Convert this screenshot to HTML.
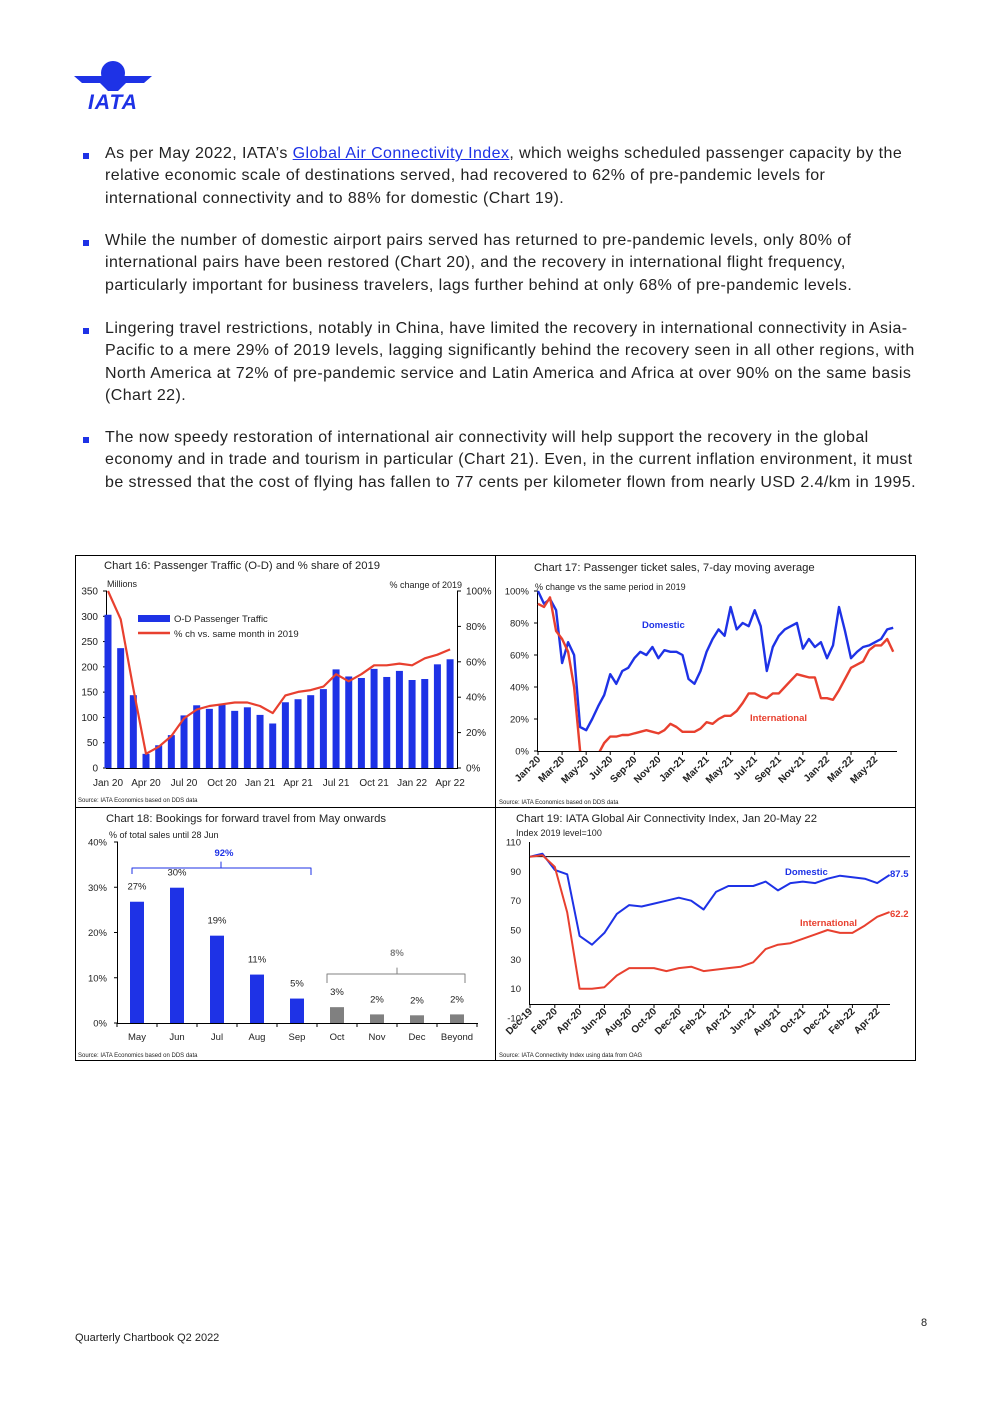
<!DOCTYPE html>
<html><head><meta charset="utf-8">
<style>
body{margin:0;background:#fff;width:992px;height:1403px;position:relative;overflow:hidden;font-family:"Liberation Sans",sans-serif;color:#222}
.p{position:absolute;left:105px;font-size:16px;letter-spacing:0.42px;line-height:22.3px;width:830px;white-space:nowrap}
.b{position:absolute;left:83px;width:6px;height:6px;background:#1e32e6}
a{color:#1e32e6;text-decoration:underline}
svg text{font-family:"Liberation Sans",sans-serif}
</style></head><body>
<svg style="position:absolute;left:74px;top:60px" width="80" height="52" viewBox="0 0 80 52">
<circle cx="39" cy="13" r="12" fill="#1e32e6"/>
<polygon points="0,16 78,16 70,23 52,23 44,31 34,31 26,23 8,23" fill="#1e32e6"/>
<text x="39" y="49" text-anchor="middle" font-size="21" font-weight="bold" font-style="italic" letter-spacing="1" fill="#1e32e6">IATA</text>
</svg>
<div class="b" style="top:153px"></div>
<div class="p" style="top:143px">As per May 2022, IATA’s <a href="#">Global Air Connectivity Index</a>, which weighs scheduled passenger capacity by the<br>relative economic scale of destinations served, had recovered to 62% of pre-pandemic levels for<br>international connectivity and to 88% for domestic (Chart 19).</div>
<div class="b" style="top:240px"></div>
<div class="p" style="top:230px">While the number of domestic airport pairs served has returned to pre-pandemic levels, only 80% of<br>international pairs have been restored (Chart 20), and the recovery in international flight frequency,<br>particularly important for business travelers, lags further behind at only 68% of pre-pandemic levels.</div>
<div class="b" style="top:328px"></div>
<div class="p" style="top:318px">Lingering travel restrictions, notably in China, have limited the recovery in international connectivity in Asia-<br>Pacific to a mere 29% of 2019 levels, lagging significantly behind the recovery seen in all other regions, with<br>North America at 72% of pre-pandemic service and Latin America and Africa at over 90% on the same basis<br>(Chart 22).</div>
<div class="b" style="top:437px"></div>
<div class="p" style="top:427px">The now speedy restoration of international air connectivity will help support the recovery in the global<br>economy and in trade and tourism in particular (Chart 21). Even, in the current inflation environment, it must<br>be stressed that the cost of flying has fallen to 77 cents per kilometer flown from nearly USD 2.4/km in 1995.</div>
<div style="position:absolute;left:921px;top:1317px;font-size:11px">8</div>
<div style="position:absolute;left:75px;top:1332px;font-size:11px">Quarterly Chartbook Q2 2022</div>

<svg id="c" style="position:absolute;left:0;top:0" width="992" height="1403">
<defs><clipPath id="cl17"><rect x="536" y="585" width="370" height="166"/></clipPath></defs>
<rect x="75.5" y="555.5" width="840" height="505" fill="none" stroke="#000"/>
<line x1="495.5" y1="555" x2="495.5" y2="1060" stroke="#000"/>
<line x1="75" y1="807.5" x2="915" y2="807.5" stroke="#000"/>
</svg>
<script>
// Chart 16 data
const c16Bars=[303,237,144,28,45,65,104,124,117,125,113,120,105,88,130,136,144,156,195,181,178,196,180,192,174,176,205,215];
const c16Pct=[100,84,45,8,12,18,28,33,35,36,37,37,35,31,41,43,44,46,53,49,53,58,58,59,58,62,64,67];
const c16XLabels=["Jan 20","Apr 20","Jul 20","Oct 20","Jan 21","Apr 21","Jul 21","Oct 21","Jan 22","Apr 22"];
const c16LTicks=[0,50,100,150,200,250,300,350];
const c16RTicks=[0,20,40,60,80,100];
// Chart 17 data (half-monthly from Jan-20)
const c17Dom=[100,92,95,88,55,68,60,15,13,20,28,35,48,42,50,52,58,62,60,65,58,63,62,62,60,45,42,50,62,70,76,72,90,76,80,78,88,78,50,65,72,76,78,80,64,70,65,68,58,66,90,75,58,62,65,66,68,70,76,77];
const c17Int=[92,90,96,75,70,62,40,0,-5,-10,-2,5,9,9,10,10,11,12,13,12,11,13,17,15,12,12,12,14,18,17,20,22,22,25,30,36,36,34,33,36,36,40,44,48,47,46,46,33,33,32,38,45,52,54,56,63,66,66,70,62];
const c17XLabels=["Jan-20","Mar-20","May-20","Jul-20","Sep-20","Nov-20","Jan-21","Mar-21","May-21","Jul-21","Sep-21","Nov-21","Jan-22","Mar-22","May-22"];
const c17Ticks=[0,20,40,60,80,100];
// Chart 18 data
const c18Cats=["May","Jun","Jul","Aug","Sep","Oct","Nov","Dec","Beyond"];
const c18Vals=[26.8,29.9,19.3,10.7,5.4,3.5,1.9,1.7,1.9];
const c18Labels=["27%","30%","19%","11%","5%","3%","2%","2%","2%"];
const c18Ticks=[0,10,20,30,40];
// Chart 19 data (monthly Dec-19..May-22)
const c19Dom=[100,102,91,88,46,40,48,61,67,66,68,70,72,70,64,76,80,80,80,83,77,82,83,82,85,87,86,85,82,87.5];
const c19Int=[100,101,93,62,10,10,11,19,24,24,24,22,24,25,22,23,24,25,28,37,40,41,44,47,50,48,48,53,59,62.2];
const c19XLabels=["Dec-19","Feb-20","Apr-20","Jun-20","Aug-20","Oct-20","Dec-20","Feb-21","Apr-21","Jun-21","Aug-21","Oct-21","Dec-21","Feb-22","Apr-22"];
const c19Ticks=[-10,10,30,50,70,90,110];

const NS="http://www.w3.org/2000/svg";
const svg=document.getElementById('c');
function mk(tag,attrs,parent){const e=document.createElementNS(NS,tag);for(const k in attrs)e.setAttribute(k,attrs[k]);(parent||svg).appendChild(e);return e;}
function tx(x,y,s,size,anchor,fill,name,extra){const e=mk('text',Object.assign({x:x,y:y,'font-size':size,'text-anchor':anchor||'start',fill:fill||'#222'},extra||{}));e.textContent=s;


return e;}
function path(pts,color,w,name,clip){const d=pts.map((p,i)=>(i?'L':'M')+p[0].toFixed(1)+','+p[1].toFixed(1)).join('');const e=mk('path',{d:d,fill:'none',stroke:color,'stroke-width':w,'stroke-linejoin':'round'});if(clip)e.setAttribute('clip-path',clip);


return e;}
const BLUE='#1e32e6',RED='#e8402f';

// ---- Chart 16
const x16=i=>108+i*12.67, yL16=v=>768-v/350*177, yR16=p=>768-p/100*177;
tx(104,569,"Chart 16: Passenger Traffic (O-D) and % share of 2019",11.3,'start','#222','chart16-title');
tx(107,587,"Millions",9,'start','#222','chart16-left-unit');
tx(462,588,"% change of 2019",9,'end','#222','chart16-right-unit');
mk('line',{x1:106.5,y1:591,x2:106.5,y2:768,stroke:'#000'});
mk('line',{x1:457.5,y1:591,x2:457.5,y2:768,stroke:'#000'});
mk('line',{x1:106,y1:768.5,x2:458,y2:768.5,stroke:'#000'});
c16LTicks.forEach(v=>{tx(98,yL16(v)+3.5,String(v),10,'end','#222','chart16-left-tick');mk('line',{x1:103,y1:yL16(v),x2:107,y2:yL16(v),stroke:'#000'});});
c16RTicks.forEach(v=>{tx(466,yR16(v)+3.5,v+'%',10,'start','#222','chart16-right-tick');mk('line',{x1:457,y1:yR16(v),x2:461,y2:yR16(v),stroke:'#000'});});
c16Bars.forEach((v,i)=>{const r=mk('rect',{x:x16(i)-3.5,y:yL16(v),width:7,height:768-yL16(v),fill:BLUE});

});
path(c16Pct.map((p,i)=>[x16(i),yR16(p)]),RED,2.2,'chart16-pct-line');
c16XLabels.forEach((s,k)=>tx(x16(k*3),786,s,10,'middle','#222','chart16-x-label'));
mk('rect',{x:138,y:615,width:32,height:7,fill:BLUE});
tx(174,622,"O-D Passenger Traffic",9.5,'start','#222','chart16-legend-bars');
mk('line',{x1:138,y1:633,x2:170,y2:633,stroke:RED,'stroke-width':2.5});
tx(174,637,"% ch vs. same month in 2019",9.5,'start','#222','chart16-legend-line');
tx(78,802,"Source: IATA Economics based on DDS data",6,'start','#222','chart16-source');

// ---- Chart 17
const x17=i=>538+i*6.02, y17=v=>751-v*1.6;
tx(534,571,"Chart 17: Passenger ticket sales, 7-day moving average",11.3,'start','#222','chart17-title');
tx(535,590,"% change vs the same period in 2019",9,'start','#222','chart17-unit');
mk('line',{x1:537.5,y1:591,x2:537.5,y2:751,stroke:'#000'});
mk('line',{x1:537,y1:751.5,x2:897,y2:751.5,stroke:'#000'});
c17Ticks.forEach(v=>{tx(529,y17(v)+3.5,v+'%',9.5,'end','#222','chart17-y-tick');mk('line',{x1:534,y1:y17(v),x2:538,y2:y17(v),stroke:'#000'});});
c17XLabels.forEach((s,k)=>{const x=x17(k*4);mk('line',{x1:x,y1:751,x2:x,y2:755,stroke:'#000'});tx(x+3,760,s,10,'end','#222','chart17-x-label',{transform:`rotate(-45 ${x+3} 760)`,'font-weight':'bold'});});
path(c17Dom.map((v,i)=>[x17(i),y17(v)]),BLUE,2.4,'chart17-domestic-line','url(#cl17)');
path(c17Int.map((v,i)=>[x17(i),y17(v)]),RED,2.4,'chart17-international-line','url(#cl17)');
tx(642,628,"Domestic",9.5,'start',BLUE,'chart17-domestic-label',{'font-weight':'bold'});
tx(750,721,"International",9.5,'start',RED,'chart17-international-label',{'font-weight':'bold'});
tx(499,804,"Source: IATA Economics based on DDS data",6,'start','#222','chart17-source');

// ---- Chart 18
const x18=i=>137+i*40, y18=v=>1023-v/40*181;
tx(106,822,"Chart 18: Bookings for forward travel from May onwards",11.3,'start','#222','chart18-title');
tx(109,838,"% of total sales until 28 Jun",9,'start','#222','chart18-unit');
mk('line',{x1:117.5,y1:842,x2:117.5,y2:1023,stroke:'#000'});
mk('line',{x1:117,y1:1023.5,x2:478,y2:1023.5,stroke:'#000'});
c18Ticks.forEach(v=>{tx(107,y18(v)+3.5,v+'%',9.5,'end','#222','chart18-y-tick');mk('line',{x1:114,y1:y18(v),x2:118,y2:y18(v),stroke:'#000'});});
for(let i=0;i<=c18Cats.length;i++){mk('line',{x1:117+i*40,y1:1023,x2:117+i*40,y2:1027,stroke:'#000'});}
c18Vals.forEach((v,i)=>{const col=i<5?BLUE:'#808080';const r=mk('rect',{x:x18(i)-7,y:y18(v),width:14,height:1023-y18(v),fill:col});


tx(x18(i),y18(v)-12,c18Labels[i],9.5,'middle','#222','chart18-value-label');
tx(x18(i),1040,c18Cats[i],9.5,'middle','#222','chart18-x-label');});
path([[132,874],[132,868],[221,868],[221,862],[221,868],[311,868],[311,875]],BLUE,1,'chart18-brace-92');
tx(224,856,"92%",9.5,'middle',BLUE,'chart18-brace-92-label',{'font-weight':'bold'});
path([[327,983],[327,974],[397,974],[397,968],[397,974],[465,974],[465,983]],'#808080',1,'chart18-brace-8');
tx(397,956,"8%",9.5,'middle','#808080','chart18-brace-8-label',{'font-weight':'bold'});
tx(78,1057,"Source: IATA Economics based on DDS data",6,'start','#222','chart18-source');

// ---- Chart 19
const x19=i=>530+i*12.4, y19=v=>1018-(v+10)/120*176;
tx(516,822,"Chart 19: IATA Global Air Connectivity Index, Jan 20-May 22",11.3,'start','#222','chart19-title');
tx(516,836,"Index 2019 level=100",9,'start','#222','chart19-unit');
mk('line',{x1:529.5,y1:842,x2:529.5,y2:1004,stroke:'#000'});
mk('line',{x1:529,y1:1004.5,x2:890,y2:1004.5,stroke:'#000'});
mk('line',{x1:530,y1:y19(100),x2:910,y2:y19(100),stroke:'#000'});
c19Ticks.forEach(v=>{tx(521,y19(v)+3.5,String(v),9.5,'end','#222','chart19-y-tick');});
c19XLabels.forEach((s,k)=>{const x=x19(k*2);mk('line',{x1:x,y1:1004,x2:x,y2:1008,stroke:'#000'});tx(x+3,1012,s,10,'end','#222','chart19-x-label',{transform:`rotate(-45 ${x+3} 1012)`,'font-weight':'bold'});});
path(c19Dom.map((v,i)=>[x19(i),y19(v)]),BLUE,2,'chart19-domestic-line');
path(c19Int.map((v,i)=>[x19(i),y19(v)]),RED,2,'chart19-international-line');
tx(785,875,"Domestic",9.5,'start',BLUE,'chart19-domestic-label',{'font-weight':'bold'});
tx(800,926,"International",9.5,'start',RED,'chart19-international-label',{'font-weight':'bold'});
tx(890,877,String(c19Dom[c19Dom.length-1]),9.5,'start',BLUE,'chart19-domestic-end-label',{'font-weight':'bold'});
tx(890,917,String(c19Int[c19Int.length-1]),9.5,'start',RED,'chart19-international-end-label',{'font-weight':'bold'});
tx(499,1057,"Source: IATA Connectivity Index using data from OAG",6,'start','#222','chart19-source');
</script>
</body></html>
